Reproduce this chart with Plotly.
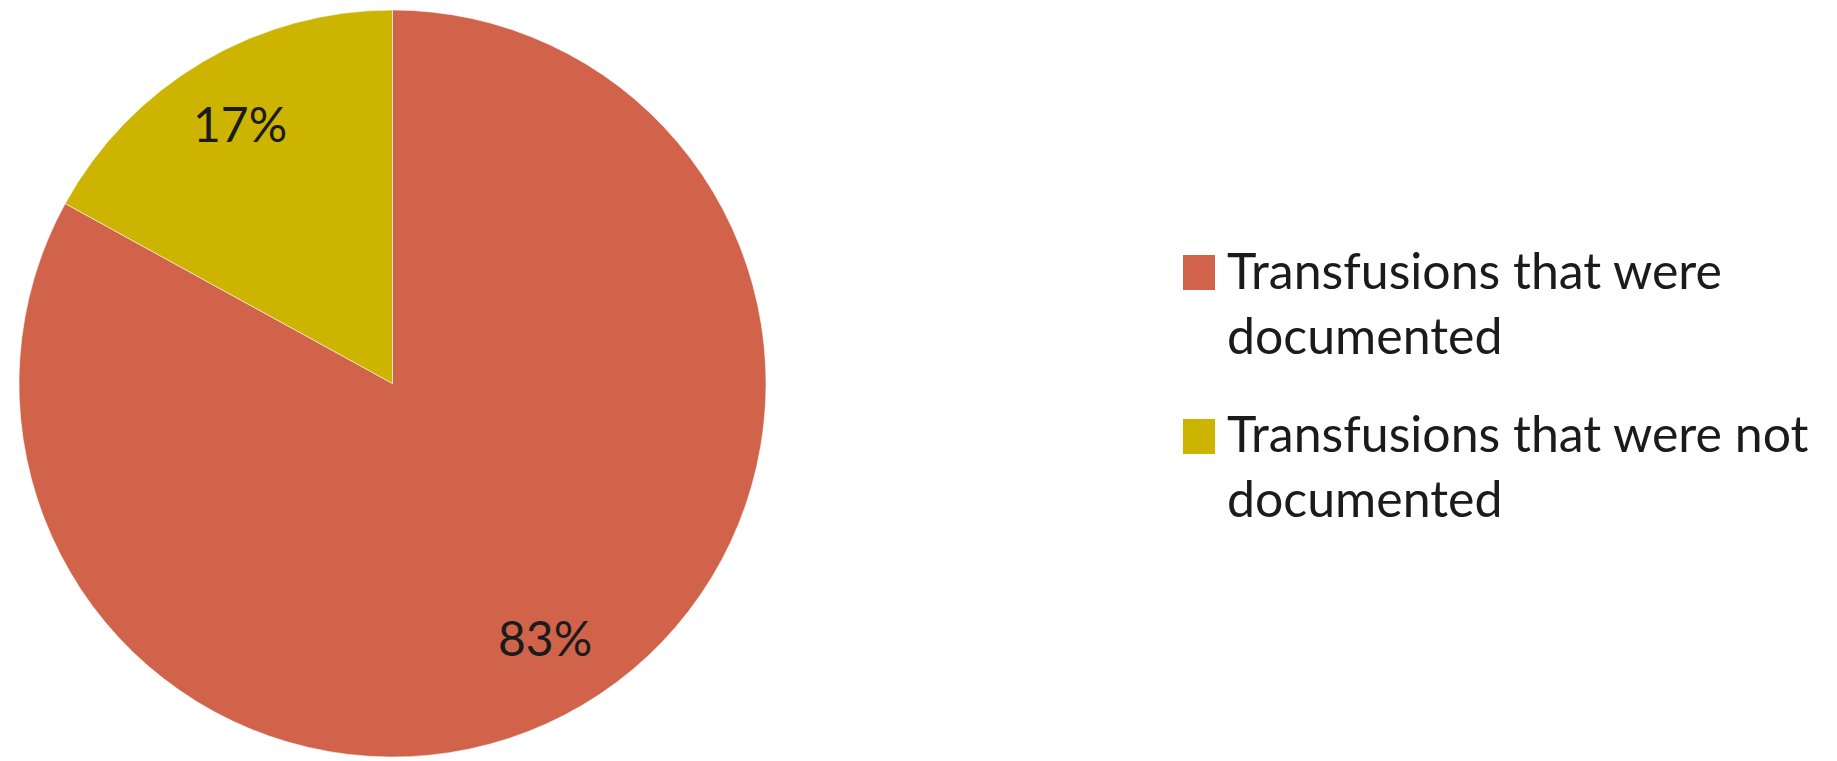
import math
import plotly.graph_objects as go

# Share of blood transfusions by documentation status
labels = ["Transfusions that were<br>documented", "Transfusions that were not<br>documented"]
values = [83, 17]
colors = ["#D0634A", "#CCB400"]

W, H = 1837, 761
FONT = "Lato"
TEXT_COLOR = "#1b1b1b"

# pie placement (paper fractions)
dom_x = [15 / W, 770 / W]
dom_y = [4 / H, 751 / H]

fig = go.Figure(
    go.Pie(
        labels=labels,
        values=values,
        sort=False,
        direction="clockwise",
        rotation=0,
        marker=dict(colors=colors, line=dict(color="rgba(255,255,255,0.55)", width=1)),
        textinfo="none",
        hoverinfo="label+percent",
        showlegend=False,
        domain=dict(x=dom_x, y=dom_y),
    )
)

# percentage labels placed along each slice's mid-angle
cx_px = (dom_x[0] + dom_x[1]) / 2 * W
cy_px = H - (dom_y[0] + dom_y[1]) / 2 * H
radius_px = min((dom_x[1] - dom_x[0]) * W, (dom_y[1] - dom_y[0]) * H) / 2
total = sum(values)
start = 0.0
annotations = []
for v in values:
    mid = (start + v / 2) / total * 2 * math.pi
    start += v
    r = 0.80 * radius_px
    px = cx_px + r * math.sin(mid)
    py = cy_px - r * math.cos(mid)
    annotations.append(dict(
        x=px / W, y=1 - py / H, xref="paper", yref="paper",
        text=f"{round(v / total * 100)}%", showarrow=False,
        xanchor="center", yanchor="middle", yshift=3,
        font=dict(family=FONT, size=48, color=TEXT_COLOR),
    ))

# legend drawn as swatches with wrapped labels
shapes = []
leg_x0, sw_w, sw_h = 1183, 32, 35
leg_tops = [255, 419]
for lab, col, top in zip(labels, colors, leg_tops):
    shapes.append(dict(
        type="rect", xref="paper", yref="paper",
        x0=leg_x0 / W, x1=(leg_x0 + sw_w) / W,
        y0=1 - (top + sw_h) / H, y1=1 - top / H,
        fillcolor=col, line=dict(width=0),
    ))
    annotations.append(dict(
        x=(leg_x0 + sw_w + 10) / W, y=1 - (top - 17.5) / H,
        xref="paper", yref="paper", text=lab, showarrow=False,
        xanchor="left", yanchor="top", align="left",
        font=dict(family=FONT, size=50, color=TEXT_COLOR),
    ))

fig.update_layout(
    width=W, height=H,
    margin=dict(l=0, r=0, t=0, b=0),
    paper_bgcolor="white",
    plot_bgcolor="white",
    annotations=annotations,
    shapes=shapes,
)

fig.write_html("out.html")
